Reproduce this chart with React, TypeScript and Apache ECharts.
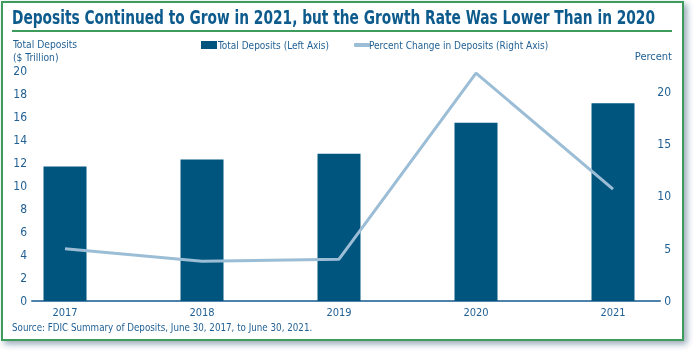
import React, { useEffect, useRef } from "react";
import * as echarts from "echarts";

const years = ["2017", "2018", "2019", "2020", "2021"];
const totalDeposits = [11.7, 12.3, 12.8, 15.5, 17.2];
const percentChange = [5.0, 3.8, 4.0, 21.8, 10.7];
const leftTicks = [0, 2, 4, 6, 8, 10, 12, 14, 16, 18, 20];
const rightTicks = [0, 5, 10, 15, 20];

const FONT = "'DejaVu Sans Condensed', 'Liberation Sans', sans-serif";
const TEXT = "#1f5f93";
const BAR = "#00557f";
const LINE = "#9bbdd6";
const GREEN = "#3d9b5c";

export default function App() {
  const ref = useRef<HTMLDivElement>(null);
  useEffect(() => {
    if (!ref.current) return;
    const chart = echarts.init(ref.current, null, { renderer: "svg" });
    const xs = years.map((_, i) => i);
    const legendText = { color: TEXT, fontSize: 10, fontFamily: FONT };
    chart.setOption({
      animation: false,
      textStyle: { fontFamily: FONT },
      graphic: [
        {
          type: "rect",
          shape: { x: 2, y: 2, width: 681, height: 338 },
          style: {
            fill: "#fff",
            stroke: GREEN,
            lineWidth: 2,
            shadowBlur: 6,
            shadowOffsetX: 3,
            shadowOffsetY: 3,
            shadowColor: "rgba(20,60,100,0.45)",
          },
          z: -10,
        },
        {
          type: "text",
          x: 12,
          y: 7,
          scaleX: 0.765,
          style: {
            text: "Deposits Continued to Grow in 2021, but the Growth Rate Was Lower Than in 2020",
            fill: "#0d5a8c",
            font: `bold 20px ${FONT}`,
          },
        },
        {
          type: "line",
          shape: { x1: 12, y1: 31, x2: 672, y2: 31 },
          style: { stroke: GREEN, lineWidth: 2 },
        },
        {
          type: "text",
          x: 13,
          y: 38,
          scaleX: 0.93,
          style: {
            text: "Total Deposits\n($ Trillion)",
            fill: TEXT,
            font: `11px ${FONT}`,
            lineHeight: 13,
          },
        },
        {
          type: "text",
          x: 672,
          y: 51,
          style: { text: "Percent", fill: TEXT, font: `11px ${FONT}`, align: "right" },
        },
        {
          type: "text",
          x: 12,
          y: 321,
          scaleX: 0.885,
          style: {
            text: "Source: FDIC Summary of Deposits, June 30, 2017, to June 30, 2021.",
            fill: TEXT,
            font: `11px ${FONT}`,
          },
        },
      ],
      legend: [
        {
          top: 35,
          left: 196,
          itemWidth: 16,
          itemHeight: 8,
          textStyle: { ...legendText, padding: [0, 0, 0, -4] },
          data: [{ name: "Total Deposits (Left Axis)", icon: "rect" }],
        },
        {
          top: 35,
          left: 349,
          itemWidth: 16,
          itemHeight: 4,
          textStyle: { ...legendText, padding: [0, 0, 0, -6] },
          data: [{ name: "Percent Change in Deposits (Right Axis)", icon: "roundRect" }],
        },
      ],
      grid: { left: 32, right: 35, top: 71, bottom: 51 },
      xAxis: {
        type: "value",
        min: -0.241,
        max: 4.343,
        splitLine: { show: false },
        axisTick: { show: false },
        axisLine: { show: true, onZero: false, lineStyle: { color: "#4f82aa", width: 2 } },
        axisLabel: {
          customValues: xs,
          color: TEXT,
          fontSize: 11,
          fontFamily: FONT,
          margin: 6,
          formatter: (v: number) => years[Math.round(v)] ?? "",
        },
      },
      yAxis: [
        {
          type: "value",
          min: 0,
          max: 20,
          interval: 2,
          splitLine: { show: false },
          axisLine: { show: false },
          axisTick: { show: false },
          axisLabel: {
            customValues: leftTicks,
            color: TEXT,
            fontSize: 12,
            fontFamily: FONT,
            margin: 5,
          },
        },
        {
          type: "value",
          min: 0,
          max: 22,
          position: "right",
          splitLine: { show: false },
          axisLine: { show: false },
          axisTick: { show: false },
          axisLabel: {
            customValues: rightTicks,
            color: TEXT,
            fontSize: 12,
            fontFamily: FONT,
            margin: 11,
            align: "right",
          },
        },
      ],
      series: [
        {
          name: "Total Deposits (Left Axis)",
          type: "bar",
          barWidth: 43,
          yAxisIndex: 0,
          clip: false,
          itemStyle: { color: BAR },
          data: xs.map((x, i) => [x, totalDeposits[i]]),
          z: 2,
        },
        {
          name: "Percent Change in Deposits (Right Axis)",
          type: "line",
          yAxisIndex: 1,
          symbol: "none",
          lineStyle: { color: LINE, width: 3 },
          itemStyle: { color: LINE },
          data: xs.map((x, i) => [x, percentChange[i]]),
          z: 3,
        },
      ],
    });
    return () => chart.dispose();
  }, []);
  return (
    <div
      ref={ref}
      style={{ position: "fixed", left: 0, top: 0, width: 695, height: 352 }}
    />
  );
}
